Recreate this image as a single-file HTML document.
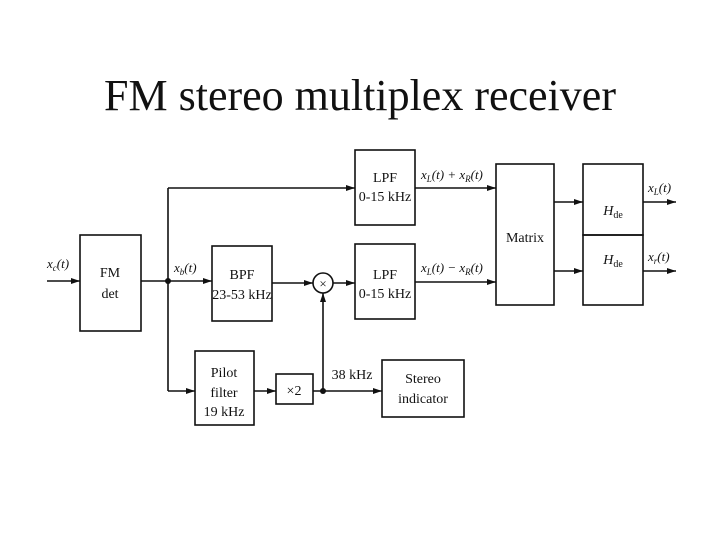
<!DOCTYPE html>
<html><head><style>
body{margin:0;background:#fff;width:720px;height:540px;overflow:hidden}
svg{position:absolute;left:0;top:0}
text{font-family:"Liberation Serif",serif;fill:#111}
</style></head><body>
<svg width="720" height="540" viewBox="0 0 720 540">
<defs><marker id="a" markerWidth="10" markerHeight="8" refX="9" refY="4" orient="auto" markerUnits="userSpaceOnUse"><path d="M0,1 L9,4 L0,7 Z" fill="#111"/></marker></defs>
<text x="360" y="110" font-size="44" text-anchor="middle">FM stereo multiplex receiver</text>
<g stroke="#111" stroke-width="1.6" fill="none">
<rect x="80" y="235" width="61" height="96"/>
<rect x="212" y="246" width="60" height="75"/>
<rect x="355" y="150" width="60" height="75"/>
<rect x="355" y="244" width="60" height="75"/>
<rect x="496" y="164" width="58" height="141"/>
<rect x="583" y="164" width="60" height="71"/>
<rect x="583" y="235" width="60" height="70"/>
<rect x="195" y="351" width="59" height="74"/>
<rect x="276" y="374" width="37" height="30"/>
<rect x="382" y="360" width="82" height="57"/>
<circle cx="323" cy="283" r="10"/>
<line x1="47" y1="281" x2="80" y2="281" marker-end="url(#a)"/>
<line x1="141" y1="281" x2="212" y2="281" marker-end="url(#a)"/>
<line x1="168" y1="188" x2="168" y2="391"/>
<line x1="168" y1="188" x2="355" y2="188" marker-end="url(#a)"/>
<line x1="168" y1="391" x2="195" y2="391" marker-end="url(#a)"/>
<line x1="272" y1="283" x2="313" y2="283" marker-end="url(#a)"/>
<line x1="333" y1="283" x2="355" y2="283" marker-end="url(#a)"/>
<line x1="254" y1="391" x2="276" y2="391" marker-end="url(#a)"/>
<line x1="313" y1="391" x2="382" y2="391" marker-end="url(#a)"/>
<line x1="323" y1="391" x2="323" y2="293" marker-end="url(#a)"/>
<line x1="415" y1="188" x2="496" y2="188" marker-end="url(#a)"/>
<line x1="415" y1="282" x2="496" y2="282" marker-end="url(#a)"/>
<line x1="554" y1="202" x2="583" y2="202" marker-end="url(#a)"/>
<line x1="554" y1="271" x2="583" y2="271" marker-end="url(#a)"/>
<line x1="643" y1="202" x2="676" y2="202" marker-end="url(#a)"/>
<line x1="643" y1="271" x2="676" y2="271" marker-end="url(#a)"/>
</g>
<circle cx="168" cy="281" r="3" fill="#111"/>
<circle cx="323" cy="391" r="3" fill="#111"/>
<g font-size="14" text-anchor="middle">
<text x="110" y="277">FM</text><text x="110" y="298">det</text>
<text x="242" y="279">BPF</text><text x="242" y="299">23-53 kHz</text>
<text x="385" y="182">LPF</text><text x="385" y="201">0-15 kHz</text>
<text x="385" y="279">LPF</text><text x="385" y="298">0-15 kHz</text>
<text x="525" y="242">Matrix</text>
<text x="224" y="377">Pilot</text><text x="224" y="397">filter</text><text x="224" y="416">19 kHz</text>
<text x="294" y="395">×2</text>
<text x="423" y="383">Stereo</text><text x="423" y="403">indicator</text>
<text x="323" y="288" font-size="13">×</text>
<text x="613" y="215" font-style="italic">H<tspan font-size="10" font-style="normal" dy="3">de</tspan></text>
<text x="613" y="264" font-style="italic">H<tspan font-size="10" font-style="normal" dy="3">de</tspan></text>
<text x="352" y="379">38 kHz</text>
</g>
<g font-size="13" font-style="italic">
<text x="47" y="268">x<tspan font-size="9" dy="3">c</tspan><tspan dy="-3">(t)</tspan></text>
<text x="174" y="272">x<tspan font-size="9" dy="3">b</tspan><tspan dy="-3">(t)</tspan></text>
<text x="421" y="179">x<tspan font-size="9" dy="3">L</tspan><tspan dy="-3">(t) + x</tspan><tspan font-size="9" dy="3">R</tspan><tspan dy="-3">(t)</tspan></text>
<text x="421" y="272">x<tspan font-size="9" dy="3">L</tspan><tspan dy="-3">(t) − x</tspan><tspan font-size="9" dy="3">R</tspan><tspan dy="-3">(t)</tspan></text>
<text x="648" y="192">x<tspan font-size="9" dy="3">L</tspan><tspan dy="-3">(t)</tspan></text>
<text x="648" y="261">x<tspan font-size="9" dy="3">r</tspan><tspan dy="-3">(t)</tspan></text>
</g>
</svg>
</body></html>
